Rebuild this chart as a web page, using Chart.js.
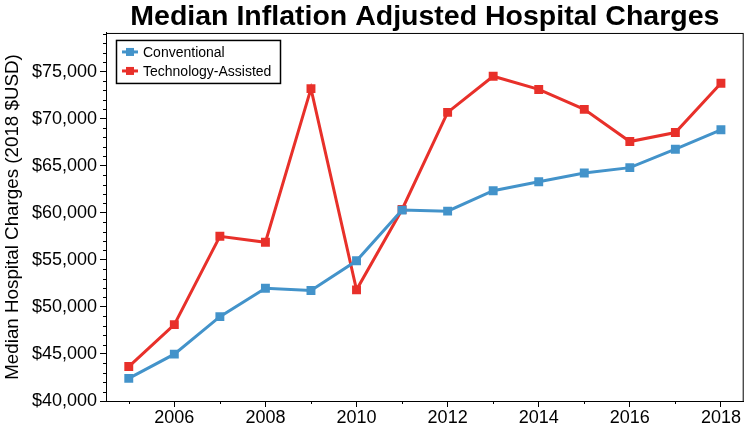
<!DOCTYPE html>
<html>
<head>
<meta charset="utf-8">
<script src="https://cdn.jsdelivr.net/npm/chart.js@4"></script>
<style>
  html, body { margin: 0; padding: 0; background: #fff; }
  #wrap { width: 750px; height: 428px; }
</style>
</head>
<body>
<div id="wrap"><canvas id="myChart" width="750" height="428"></canvas></div>
<script>
// datos
const years = [2005, 2006, 2007, 2008, 2009, 2010, 2011, 2012, 2013, 2014, 2015, 2016, 2017, 2018];
const conventional = [42400, 44980, 48960, 51980, 51740, 54900, 60280, 60170, 62340, 63300, 64220, 64790, 66750, 68810];
const techAssisted = [43660, 48110, 57500, 56860, 73190, 51810, 60350, 70660, 74500, 73100, 70980, 67560, 68520, 73750];
const xTicks = [2006, 2008, 2010, 2012, 2014, 2016, 2018];
const yTicks = [40000, 45000, 50000, 55000, 60000, 65000, 70000, 75000];

const BLUE = '#4393ca';
const RED = '#e8302a';
const FONT = '"Liberation Sans", Arial, sans-serif';

// caja del grafico + ticks menores + leyenda dentro del area
const framePlugin = {
  id: 'frame',
  afterDraw(chart) {
    const { ctx, chartArea: a, scales } = chart;
    ctx.save();
    ctx.strokeStyle = '#000';
    ctx.lineWidth = 1;
    ctx.strokeRect(a.left + 0.5, a.top + 0.5, a.right - a.left - 1, a.bottom - a.top);

    // ticks menores
    ctx.beginPath();
    for (let v = 41000; v <= scales.y.max; v += 1000) {
      if (v % 5000 === 0) continue;
      const py = Math.round(scales.y.getPixelForValue(v)) + 0.5;
      ctx.moveTo(a.left - 3, py);
      ctx.lineTo(a.left, py);
    }
    for (let yr = 2005; yr <= 2017; yr += 2) {
      const px = Math.round(scales.x.getPixelForValue(yr)) + 0.5;
      ctx.moveTo(px, a.bottom);
      ctx.lineTo(px, a.bottom + 3);
    }
    ctx.stroke();

    // leyenda
    const bx = a.left + 10, by = a.top + 7, bw = 164, bh = 43;
    ctx.fillStyle = '#fff';
    ctx.fillRect(bx, by, bw, bh);
    ctx.lineWidth = 1.5;
    ctx.strokeRect(bx + 0.5, by + 0.5, bw, bh);
    ctx.font = '14px ' + FONT;
    ctx.textBaseline = 'middle';
    chart.data.datasets.forEach((ds, i) => {
      const ry = by + 12 + i * 19;
      ctx.strokeStyle = ds.borderColor;
      ctx.lineWidth = 3;
      ctx.beginPath();
      ctx.moveTo(bx + 6, ry);
      ctx.lineTo(bx + 22, ry);
      ctx.stroke();
      ctx.fillStyle = ds.borderColor;
      ctx.fillRect(bx + 10, ry - 4, 8, 8);
      ctx.fillStyle = '#000';
      ctx.fillText(ds.label, bx + 27, ry + 1);
    });
    ctx.restore();
  }
};

const mkData = vals => years.map((yr, i) => ({ x: yr, y: vals[i] }));

new Chart(document.getElementById('myChart'), {
  type: 'line',
  data: {
    datasets: [{
      label: 'Conventional',
      data: mkData(conventional),
      borderColor: BLUE,
      backgroundColor: BLUE,
      borderWidth: 3,
      pointStyle: 'rect',
      pointRadius: 6.3,
      pointBorderWidth: 0,
      tension: 0
    }, {
      label: 'Technology-Assisted',
      data: mkData(techAssisted),
      borderColor: RED,
      backgroundColor: RED,
      borderWidth: 3,
      pointStyle: 'rect',
      pointRadius: 6.3,
      pointBorderWidth: 0,
      tension: 0
    }]
  },
  options: {
    responsive: false,
    animation: false,
    layout: { padding: { left: 0, right: 3, top: 0, bottom: 0 } },
    plugins: {
      legend: { display: false },
      tooltip: { enabled: false },
      title: {
        display: true,
        fullSize: false,
        text: 'Median Inflation Adjusted Hospital Charges',
        color: '#000',
        font: { family: FONT, size: 28.5, weight: 'bold', lineHeight: 1.1 },
        padding: { top: 1.5, bottom: 0.1 }
      }
    },
    scales: {
      x: {
        type: 'linear',
        min: 2004.5,
        max: 2018.5,
        afterBuildTicks: s => { s.ticks = xTicks.map(v => ({ value: v })); },
        afterFit: s => { s.height = 27; },
        grid: { drawOnChartArea: false, tickLength: 6, color: '#000' },
        border: { color: '#000' },
        ticks: {
          color: '#000',
          padding: 0,
          maxRotation: 0,
          font: { family: FONT, size: 18 },
          callback: v => String(v)
        }
      },
      y: {
        min: 40000,
        max: 79100,
        afterBuildTicks: s => { s.ticks = yTicks.map(v => ({ value: v })); },
        afterFit: s => { s.width = 106; },
        grid: { drawOnChartArea: false, tickLength: 6, color: '#000' },
        border: { color: '#000' },
        title: {
          display: true,
          text: 'Median Hospital Charges (2018 $USD)',
          color: '#000',
          font: { family: FONT, size: 18.8 },
          padding: { top: 1.5, bottom: 0 }
        },
        ticks: {
          color: '#000',
          padding: 3,
          font: { family: FONT, size: 18 },
          callback: v => '$' + v.toLocaleString('en-US')
        }
      }
    }
  },
  plugins: [framePlugin]
});
</script>
</body>
</html>
